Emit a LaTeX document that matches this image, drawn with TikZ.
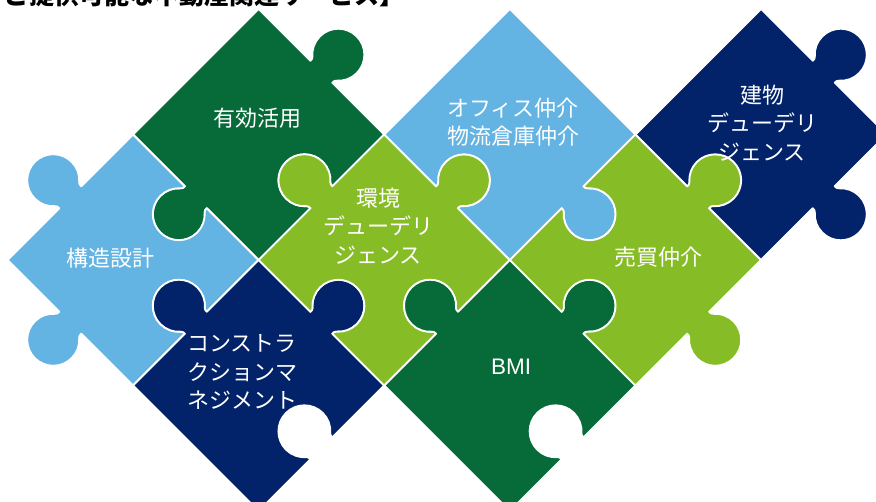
\documentclass[tikz,border=0pt]{standalone}
\usepackage{fontspec}
\setmainfont{Liberation Sans}
\newfontfamily\cjk{Noto Sans CJK JP}
\definecolor{pzgreen}{HTML}{066B38}
\definecolor{pzblue}{HTML}{63B3E3}
\definecolor{pzlime}{HTML}{86BC25}
\definecolor{pznavy}{HTML}{022369}
\def\pzS{88.75}
% canonical right edge from (S,-S) to (S,S); point (a,b) -> (S+t*b, a)
\newcommand\pzedge[1]{%
 \ifnum#1=0 -- (\pzS,\pzS)\else
 -- ({\pzS},{-15.5})
 .. controls ({\pzS+(#1)*1.8},{-15.5}) and ({\pzS+(#1)*3.12},{-15.56}) .. ({\pzS+(#1)*4.08},{-16.71})
 .. controls ({\pzS+(#1)*9.02},{-22.60}) and ({\pzS+(#1)*16.32},{-26}) .. ({\pzS+(#1)*24},{-26})
 .. controls ({\pzS+(#1)*38.36},{-26}) and ({\pzS+(#1)*50},{-14.36}) .. ({\pzS+(#1)*50},{0})
 .. controls ({\pzS+(#1)*50},{14.36}) and ({\pzS+(#1)*38.36},{26}) .. ({\pzS+(#1)*24},{26})
 .. controls ({\pzS+(#1)*16.32},{26}) and ({\pzS+(#1)*9.02},{22.60}) .. ({\pzS+(#1)*4.08},{16.71})
 .. controls ({\pzS+(#1)*3.12},{15.56}) and ({\pzS+(#1)*1.8},{15.5}) .. ({\pzS},{15.5})
 -- (\pzS,\pzS)\fi}
% #1 x, #2 y, #3 colour, #4 NE, #5 NW, #6 SW, #7 SE
\newcommand\pzpiece[7]{%
 \path[piece, fill=#3, shift={(#1,#2)}, rotate=45] (\pzS,-\pzS) \pzedge{#4}
 {[rotate=90] \pzedge{#5}} {[rotate=180] \pzedge{#6}} {[rotate=270] \pzedge{#7}} -- cycle;}
\tikzset{
 piece/.style={draw=white, line width=1.8, line join=round},
 lbl/.style={text=white, align=center, inner sep=0pt, font=\cjk\fontsize{22}{28.5}\selectfont},
 lbllat/.style={text=white, inner sep=0pt, font=\fontsize{22.5}{27}\selectfont},
 titletext/.style={anchor=base west, inner sep=0pt, text=black, font=\cjk\bfseries\fontsize{25}{30}\selectfont}
}
\begin{document}
\begin{tikzpicture}[x=1pt,y=1pt]
\useasboundingbox (0,0) rectangle (876,501);
\clip (0,0) rectangle (876,501);
\fill[white] (0,0) rectangle (876,501);
\node[titletext] (title) at (4,496.5) {ご提供可能な不動産関連サービス】};
\pzpiece{258.6}{366.5}{pzgreen}{1}{0}{1}{-1}
\pzpiece{133}{241}{pzblue}{-1}{1}{1}{-1}
\pzpiece{258.6}{115.5}{pznavy}{1}{1}{0}{-1}
\pzpiece{384.2}{241}{pzlime}{1}{1}{-1}{-1}
\pzpiece{509.8}{366.5}{pzblue}{0}{0}{-1}{1}
\pzpiece{509.8}{115.5}{pzgreen}{1}{1}{0}{-1}
\pzpiece{635.4}{241}{pzlime}{1}{-1}{-1}{1}
\pzpiece{761}{366.5}{pznavy}{1}{0}{-1}{1}
\node[lbl] (yuko) at (257,383) {有効活用};
\node[lbl] (kozo) at (110,243) {構造設計};
\node[lbl] (kankyo) at (378,275) {環境\\デューデリ\\ジェンス};
\node[lbl] (cm) at (242,129) {コンストラ\\クションマ\\ネジメント};
\node[lbl] (office) at (513,379) {オフィス仲介\\物流倉庫仲介};
\node[lbl] (tatemono) at (762,378) {建物\\デューデリ\\ジェンス};
\node[lbl] (baibai) at (658,244) {売買仲介};
\node[lbllat] (bmi) at (511,134) {BMI};
\end{tikzpicture}
\end{document}
